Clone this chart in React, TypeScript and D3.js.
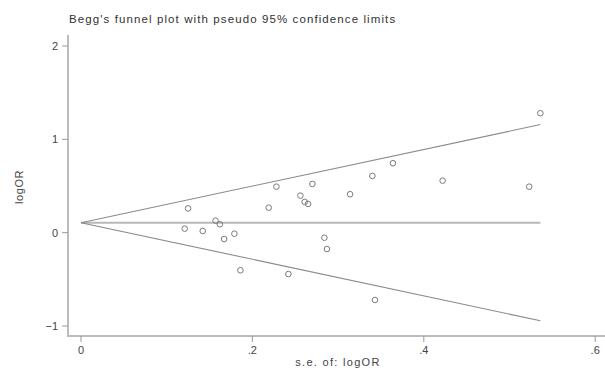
import { useEffect, useRef } from 'react';
import * as d3 from 'd3';

// study-level values
const seValues = [
  0.121, 0.125, 0.142, 0.157, 0.162, 0.167, 0.179, 0.186, 0.219, 0.228, 0.242, 0.256,
  0.261, 0.265, 0.270, 0.284, 0.287, 0.314, 0.340, 0.343, 0.364, 0.422, 0.523, 0.536,
];
const logORValues = [
  0.043, 0.26, 0.018, 0.129, 0.09, -0.068, -0.011, -0.403, 0.268, 0.493, -0.443, 0.397,
  0.329, 0.308, 0.522, -0.054, -0.175, 0.412, 0.608, -0.721, 0.744, 0.557, 0.493, 1.28,
];

// pooled estimate and pseudo 95% limit lines (endpoints)
const pooledLine = [
  { se: 0, v: 0.107 },
  { se: 0.536, v: 0.107 },
];
const upperLimit = [
  { se: 0, v: 0.107 },
  { se: 0.536, v: 1.158 },
];
const lowerLimit = [
  { se: 0, v: 0.107 },
  { se: 0.536, v: -0.944 },
];

const xTicks = [0, 0.2, 0.4, 0.6];
const xTickLabels = ['0', '.2', '.4', '.6'];
const yTicks = [-1, 0, 1, 2];
const yTickLabels = ['\u22121', '0', '1', '2'];

const title = "Begg's funnel plot with pseudo 95% confidence limits";
const xTitle = 's.e. of: logOR';
const yTitle = 'logOR';

const width = 605;
const height = 368;
const font = '"Liberation Sans", Arial, Helvetica, sans-serif';

type Pt = { se: number; v: number };

export default function App() {
  const svgRef = useRef<SVGSVGElement>(null);

  useEffect(() => {
    if (!svgRef.current) return;
    const svg = d3.select(svgRef.current);
    svg.selectAll('*').remove();

    const x = d3.scaleLinear().domain([0, 0.6]).range([81, 595.2]);
    const y = d3.scaleLinear().domain([-1, 2]).range([326, 46]);

    const plotLeft = 68;
    const plotRight = 605;
    const plotTop = 35;
    const plotBottom = 336;

    svg.append('rect').attr('width', width).attr('height', height).attr('fill', '#fff');

    svg.append('text')
      .attr('x', 69)
      .attr('y', 23)
      .attr('font-family', font)
      .attr('font-size', '11.5px')
      .attr('letter-spacing', '1.1px')
      .attr('fill', '#333')
      .text(title);

    const line = d3.line<Pt>().x(d => x(d.se)).y(d => y(d.v));

    svg.append('path')
      .datum(pooledLine)
      .attr('fill', 'none')
      .attr('stroke', '#b8b8b8')
      .attr('stroke-width', 2)
      .attr('d', line);

    [upperLimit, lowerLimit].forEach(data => {
      svg.append('path')
        .datum(data)
        .attr('fill', 'none')
        .attr('stroke', '#8a8a8a')
        .attr('stroke-width', 1.1)
        .attr('d', line);
    });

    svg.append('g')
      .selectAll('circle')
      .data(seValues.map((se, i) => ({ se, v: logORValues[i] })))
      .enter()
      .append('circle')
      .attr('cx', d => x(d.se))
      .attr('cy', d => y(d.v))
      .attr('r', 2.8)
      .attr('fill', 'none')
      .attr('stroke', '#7a7a7a')
      .attr('stroke-width', 1);

    // axis lines
    svg.append('line')
      .attr('x1', plotLeft).attr('x2', plotLeft)
      .attr('y1', plotTop).attr('y2', plotBottom + 1)
      .attr('stroke', '#bcbcbc').attr('stroke-width', 2);
    svg.append('line')
      .attr('x1', plotLeft - 1).attr('x2', plotRight)
      .attr('y1', plotBottom).attr('y2', plotBottom)
      .attr('stroke', '#bcbcbc').attr('stroke-width', 2);

    const yAxis = svg.append('g');
    yTicks.forEach((t, i) => {
      yAxis.append('line')
        .attr('x1', plotLeft - 6).attr('x2', plotLeft)
        .attr('y1', y(t)).attr('y2', y(t))
        .attr('stroke', '#999').attr('stroke-width', 1);
      yAxis.append('text')
        .attr('x', plotLeft - 10)
        .attr('y', y(t))
        .attr('dy', '0.35em')
        .attr('text-anchor', 'end')
        .attr('font-family', font)
        .attr('font-size', '11px')
        .attr('fill', '#444')
        .text(yTickLabels[i]);
    });

    const xAxis = svg.append('g');
    xTicks.forEach((t, i) => {
      xAxis.append('line')
        .attr('x1', x(t)).attr('x2', x(t))
        .attr('y1', plotBottom).attr('y2', plotBottom + 6)
        .attr('stroke', '#999').attr('stroke-width', 1);
      xAxis.append('text')
        .attr('x', x(t))
        .attr('y', plotBottom + 18)
        .attr('text-anchor', 'middle')
        .attr('font-family', font)
        .attr('font-size', '11px')
        .attr('fill', '#444')
        .text(xTickLabels[i]);
    });

    svg.append('text')
      .attr('x', 338)
      .attr('y', 366)
      .attr('text-anchor', 'middle')
      .attr('font-family', font)
      .attr('font-size', '11px')
      .attr('letter-spacing', '1.3px')
      .attr('fill', '#444')
      .text(xTitle);

    svg.append('text')
      .attr('transform', 'translate(23,187) rotate(-90)')
      .attr('text-anchor', 'middle')
      .attr('font-family', font)
      .attr('font-size', '11px')
      .attr('letter-spacing', '0.6px')
      .attr('fill', '#444')
      .text(yTitle);
  }, []);

  return (
    <svg
      ref={svgRef}
      width={width}
      height={height}
      style={{ position: 'absolute', left: 0, top: 0, display: 'block' }}
    />
  );
}
